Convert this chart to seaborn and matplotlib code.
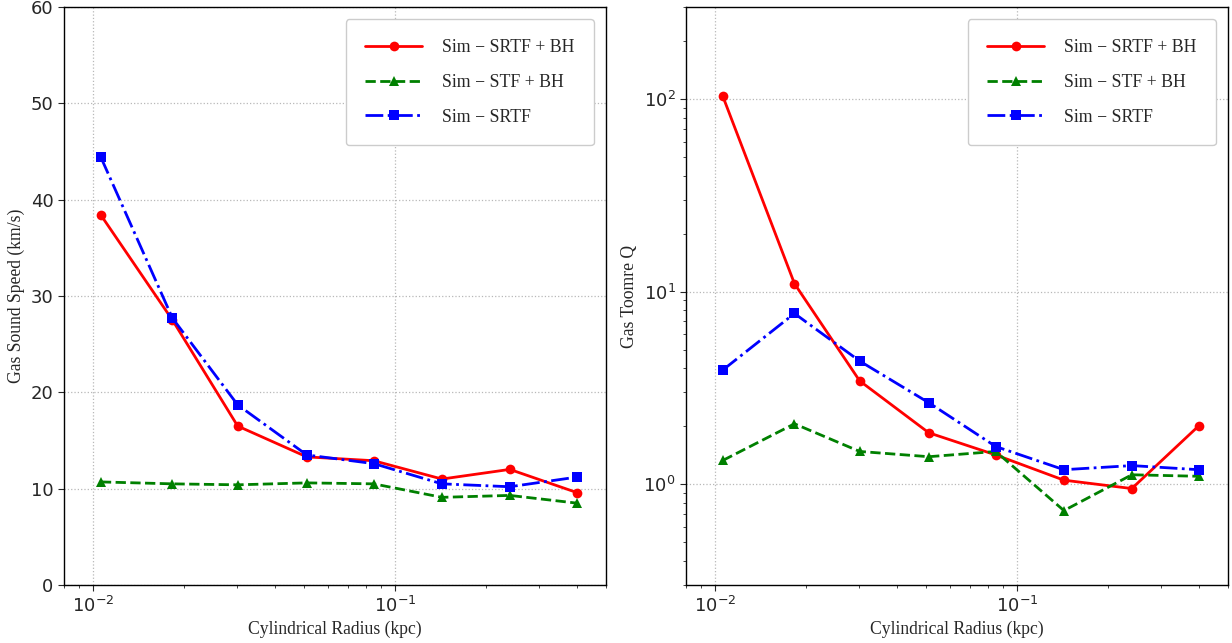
import numpy as np
import pandas as pd
import matplotlib
matplotlib.use("Agg")
import matplotlib.pyplot as plt
import seaborn as sns

# ---- data ----
radius = [0.0106, 0.0183, 0.0301, 0.051, 0.085, 0.143, 0.24, 0.40]
labels = ["Sim − SRTF + BH", "Sim − STF + BH", "Sim − SRTF"]
sound_srtf_bh = [38.4, 27.5, 16.5, 13.3, 12.9, 11.0, 12.0, 9.6]
sound_stf_bh = [10.7, 10.5, 10.4, 10.6, 10.5, 9.1, 9.3, 8.5]
sound_srtf = [44.4, 27.7, 18.7, 13.5, 12.6, 10.5, 10.2, 11.2]
q_srtf_bh = [103.0, 11.0, 3.44, 1.85, 1.42, 1.05, 0.95, 2.01]
q_stf_bh = [1.33, 2.06, 1.48, 1.39, 1.48, 0.73, 1.12, 1.10]
q_srtf = [3.92, 7.7, 4.36, 2.65, 1.57, 1.19, 1.25, 1.19]

colors = ["#ff0000", "#008000", "#0000ff"]
markers = ["o", "^", "s"]
linestyles = ["-", "--", "-."]

sns.set_style("ticks")
plt.rcParams["axes.linewidth"] = 1.0

fig = plt.figure(figsize=(12.32, 6.43), dpi=100)
ax1 = fig.add_axes([64/1232, 1-585/643, 542/1232, 578/643])
ax2 = fig.add_axes([686/1232, 1-585/643, 542/1232, 578/643])

serif = "Liberation Serif"

def draw(ax, series):
    for vals, lab, c, m, ls in zip(series, labels, colors, markers, linestyles):
        df = pd.DataFrame({"r": radius, "v": vals})
        sns.lineplot(data=df, x="r", y="v", ax=ax, color=c, marker=m,
                     linestyle=ls, linewidth=2, markersize=7,
                     markeredgewidth=0, label=lab)
    ax.set_xscale("log")
    ax.set_xlim(0.008, 0.5)
    ax.grid(True, which="major", linestyle=":", color="#b8b8b8", linewidth=0.9)
    ax.set_xlabel("Cylindrical Radius (kpc)", fontname=serif, fontsize=12.7)
    ax.tick_params(axis="both", which="major", labelsize=13, direction="out", length=4)
    for s in ax.spines.values():
        s.set_color("black")
    ax.legend(loc="upper right", prop={"family": serif, "size": 12.8},
              handlelength=3.2, labelspacing=1.0, borderpad=1.1,
              handletextpad=1.1, borderaxespad=0.7, fancybox=True,
              framealpha=1.0, edgecolor="#cccccc")

draw(ax1, [sound_srtf_bh, sound_stf_bh, sound_srtf])
ax1.set_ylim(0, 60)
ax1.set_ylabel("Gas Sound Speed (km/s)", fontname=serif, fontsize=12.7)

draw(ax2, [q_srtf_bh, q_stf_bh, q_srtf])
ax2.set_yscale("log")
ax2.set_ylim(0.3, 300)
ax2.set_ylabel("Gas Toomre Q", fontname=serif, fontsize=12.7)

fig.savefig("out.png", dpi=100)
